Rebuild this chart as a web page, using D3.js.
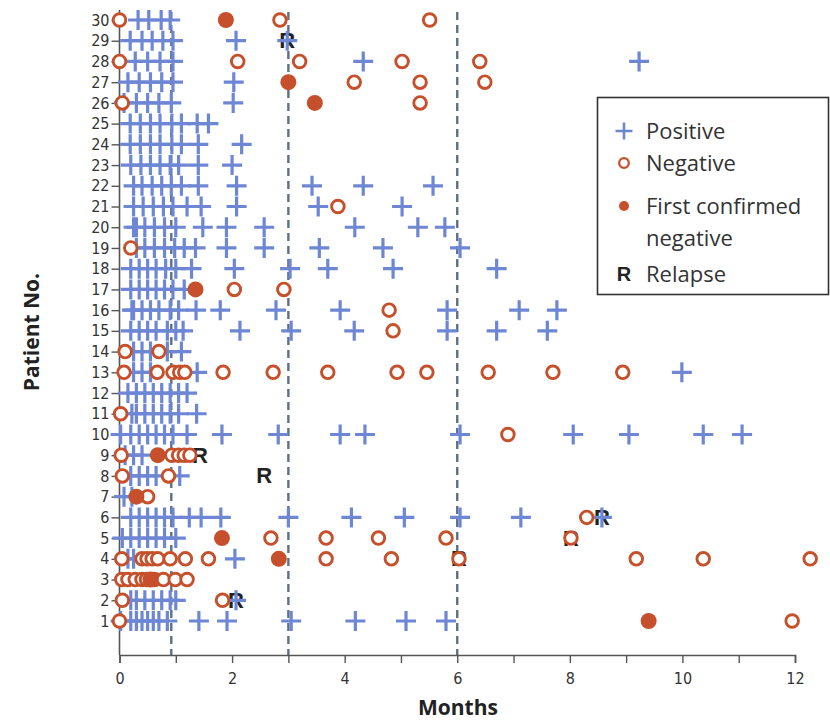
<!DOCTYPE html>
<html><head><meta charset="utf-8">
<script src="https://cdn.jsdelivr.net/npm/d3@7"></script>
<style>body{margin:0;background:#fff}svg{display:block}</style>
</head><body><svg id="c" width="830" height="720"></svg>
<script>
// [patient, month]
const positive = [
 [30,.33],[30,.52],[30,.74],[30,.90],
 [29,.19],[29,.40],[29,.58],[29,.77],[29,.95],[29,2.07],[29,2.98],
 [28,.28],[28,.50],[28,.72],[28,.95],[28,4.33],[28,9.23],
 [27,.15],[27,.35],[27,.55],[27,.75],[27,.95],[27,2.03],
 [26,.08],[26,.30],[26,.50],[26,.70],[26,.92],[26,2.02],
 [25,.19],[25,.37],[25,.55],[25,.72],[25,.93],[25,1.10],[25,1.38],[25,1.58],
 [24,.19],[24,.37],[24,.55],[24,.72],[24,.93],[24,1.10],[24,1.40],[24,2.17],
 [23,.20],[23,.38],[23,.55],[23,.72],[23,.90],[23,1.05],[23,1.40],[23,2.00],
 [22,.25],[22,.40],[22,.58],[22,.75],[22,.92],[22,1.10],[22,1.40],[22,2.08],[22,3.42],[22,4.33],[22,5.57],
 [21,.25],[21,.42],[21,.60],[21,.78],[21,.95],[21,1.20],[21,1.45],[21,2.08],[21,3.53],[21,5.02],
 [20,.25],[20,.30],[20,.45],[20,.62],[20,.80],[20,1.00],[20,1.48],[20,1.90],[20,2.57],[20,4.18],[20,5.30],[20,5.78],
 [19,.30],[19,.45],[19,.62],[19,.80],[19,.98],[19,1.15],[19,1.35],[19,1.90],[19,2.57],[19,3.55],[19,4.68],[19,6.05],
 [18,.20],[18,.35],[18,.50],[18,.65],[18,.82],[18,1.00],[18,1.28],[18,2.04],[18,3.03],[18,3.70],[18,4.86],[18,6.70],
 [17,.20],[17,.35],[17,.50],[17,.65],[17,.80],[17,.95],[17,1.15],
 [16,.22],[16,.25],[16,.40],[16,.55],[16,.70],[16,.90],[16,1.05],[16,1.36],[16,1.79],[16,2.78],[16,3.92],[16,5.82],[16,7.10],[16,7.77],
 [15,.20],[15,.35],[15,.50],[15,.65],[15,.85],[15,1.00],[15,1.13],[15,2.14],[15,3.05],[15,4.17],[15,5.82],[15,6.70],[15,7.60],
 [14,.25],[14,.40],[14,.55],[14,.85],[14,1.10],
 [13,.25],[13,.40],[13,.55],[13,1.38],[13,9.99],
 [12,.15],[12,.30],[12,.45],[12,.60],[12,.75],[12,.90],[12,1.05],[12,1.20],
 [11,.22],[11,.30],[11,.45],[11,.60],[11,.75],[11,.90],[11,1.05],[11,1.37],
 [10,.02],[10,.20],[10,.35],[10,.50],[10,.65],[10,.80],[10,.95],[10,1.20],[10,1.82],[10,2.82],[10,3.92],[10,4.36],[10,6.05],[10,8.06],[10,9.05],[10,10.37],[10,11.06],
 [9,.10],[9,.25],[9,.40],
 [8,.20],[8,.35],[8,.50],[8,.65],[8,1.07],
 [7,.08],[7,.22],
 [6,.20],[6,.35],[6,.50],[6,.65],[6,.80],[6,.95],[6,1.24],[6,1.45],[6,1.80],[6,3.00],[6,4.12],[6,5.06],[6,6.05],[6,7.13],[6,8.57],
 [5,.05],[5,.20],[5,.35],[5,.50],[5,.65],[5,.80],[5,1.00],
 [4,.15],[4,.25],[4,2.05],
 [2,.20],[2,.30],[2,.45],[2,.60],[2,.75],[2,.90],[2,1.00],[2,2.07],
 [1,.02],[1,.20],[1,.30],[1,.40],[1,.50],[1,.60],[1,.70],[1,.85],[1,1.41],[1,1.91],[1,3.05],[1,4.19],[1,5.09],[1,5.80]
];
const negative = [
 [30,0],[30,2.85],[30,5.51],
 [28,0],[28,2.10],[28,3.20],[28,5.02],[28,6.40],
 [27,4.17],[27,5.34],[27,6.49],
 [26,.05],[26,5.34],
 [21,3.88],
 [19,.20],
 [17,2.04],[17,2.92],
 [16,4.79],
 [15,4.86],
 [14,.10],[14,.70],
 [13,.08],[13,.67],[13,.95],[13,1.07],[13,1.16],[13,1.84],[13,2.73],[13,3.70],[13,4.93],[13,5.46],[13,6.55],[13,7.70],[13,8.94],
 [11,.02],
 [10,6.90],
 [9,.03],[9,.93],[9,1.05],[9,1.15],[9,1.25],
 [8,.05],[8,.87],
 [7,.50],
 [6,8.30],
 [5,2.69],[5,3.67],[5,4.60],[5,5.80],[5,8.02],
 [4,.04],[4,.40],[4,.49],[4,.58],[4,.68],[4,.90],[4,1.17],[4,1.58],[4,3.67],[4,4.83],[4,6.03],[4,9.18],[4,10.37],[4,12.27],
 [3,.04],[3,.15],[3,.28],[3,.40],[3,.48],[3,.62],[3,.78],[3,.99],[3,1.20],
 [2,.05],[2,1.83],
 [1,0],[1,11.95]
];
const firstNegative = [
 [30,1.89],[27,3.00],[26,3.47],[17,1.35],[9,.68],[7,.30],[5,1.82],[4,2.83],[3,.55],[1,9.40]
];
const relapse = [
 [29,2.98],[9,1.43],[8,2.57],[6,8.57],[5,8.02],[4,6.03],[2,2.07]
];
const dashedAt = [0.92, 3, 6];
const xTicks = [0,1,2,3,4,5,6,7,8,9,10,11,12];
const xTickLabels = [0,2,4,6,8,10,12];
const patients = d3.range(1,31);
const legendItems = ["Positive","Negative","First confirmed|negative","Relapse"];

const svg = d3.select("#c");
const BLUE = "#6d87d5", RED = "#c5502b", DASH = "#5f6f86";
const x = d3.scaleLinear().domain([0,12]).range([119.5,795]);
const y = d3.scaleLinear().domain([1,30]).range([621,20]);
const axisY0 = 655;

// dashed reference lines
svg.selectAll("line.dash").data(dashedAt).join("line").attr("class","dash")
  .attr("x1",d=>x(d)).attr("x2",d=>x(d)).attr("y1",12).attr("y2",axisY0)
  .attr("stroke",DASH).attr("stroke-width",2.4).attr("stroke-dasharray","8,5");

// axes
const xa = svg.append("g").attr("transform",`translate(0,${axisY0})`)
  .call(d3.axisBottom(x).tickValues(xTicks).tickSize(8).tickFormat(d=>xTickLabels.includes(d)?d:""));
const ya = svg.append("g").attr("transform",`translate(${x(0)},0)`)
  .call(d3.axisLeft(y).tickValues(patients).tickSize(8).tickFormat(d3.format("d")));
[xa,ya].forEach(g=>{
  g.select(".domain").attr("stroke","#555").attr("stroke-width",1.6);
  g.selectAll(".tick line").attr("stroke","#555").attr("stroke-width",1.4);
  g.selectAll(".tick text").attr("fill","#333").style("font-family","'Liberation Sans Narrow','DejaVu Sans Condensed',sans-serif").style("font-size","16px");
});
ya.select(".domain").attr("d",`M0,10V${axisY0}`);
xa.selectAll(".tick text").attr("dy","1.1em");
ya.selectAll(".tick text").attr("x",-10);

svg.append("text").attr("transform","translate(39,332) rotate(-90)").attr("text-anchor","middle")
  .style("font-family","'Open Sans',sans-serif").style("font-weight","bold").style("font-size","21px").attr("fill","#222").text("Patient No.");
svg.append("text").attr("x",458).attr("y",715).attr("text-anchor","middle")
  .style("font-family","'Open Sans',sans-serif").style("font-weight","bold").style("font-size","21px").attr("fill","#222").text("Months");

const plusPath = h => `M${-h},0H${h}M0,${-h}V${h}`;

// markers
const g = svg.append("g");
g.selectAll("path.pos").data(positive).join("path")
  .attr("transform",d=>`translate(${x(d[1])},${y(d[0])})`).attr("d",plusPath(10))
  .attr("stroke",BLUE).attr("stroke-width",3.2).attr("fill","none");
g.selectAll("circle.neg").data(negative).join("circle")
  .attr("cx",d=>x(d[1])).attr("cy",d=>y(d[0])).attr("r",6.3)
  .attr("fill","#fff").attr("stroke",RED).attr("stroke-width",2.9);
g.selectAll("circle.fn").data(firstNegative).join("circle")
  .attr("cx",d=>x(d[1])).attr("cy",d=>y(d[0])).attr("r",8).attr("fill",RED);
g.selectAll("text.rel").data(relapse).join("text")
  .attr("x",d=>x(d[1])).attr("y",d=>y(d[0])+7.5).attr("text-anchor","middle")
  .style("font-family","'Liberation Sans',sans-serif").style("font-weight","bold").style("font-size","22px")
  .attr("fill","#222").text("R").lower();
svg.selectAll("line.dash").lower();

// legend
const lg = svg.append("g");
lg.append("rect").attr("x",597.5).attr("y",97.5).attr("width",231).attr("height",197)
  .attr("fill","#fff").attr("stroke","#333").attr("stroke-width",1.6);
const lf = s=>s.style("font-family","'Open Sans',sans-serif").style("font-size","22px").attr("fill","#333");
const ly = [131,163,206,274];
lg.append("path").attr("transform",`translate(624,${ly[0]})`).attr("d",plusPath(8.5)).attr("stroke",BLUE).attr("stroke-width",2.6);
lg.append("circle").attr("cx",624).attr("cy",ly[1]).attr("r",4.8).attr("fill","#fff").attr("stroke",RED).attr("stroke-width",2.3);
lg.append("circle").attr("cx",624).attr("cy",ly[2]).attr("r",5).attr("fill",RED);
lg.append("text").attr("x",624).attr("y",ly[3]+7).attr("text-anchor","middle")
  .style("font-family","'Liberation Sans',sans-serif").style("font-weight","bold").style("font-size","20px").attr("fill","#222").text("R");
legendItems.forEach((t,i)=>{
  const parts=t.split("|");
  parts.forEach((p,j)=>lf(lg.append("text").attr("x",646).attr("y",ly[i]+8+j*32).text(p)));
});
</script></body></html>
